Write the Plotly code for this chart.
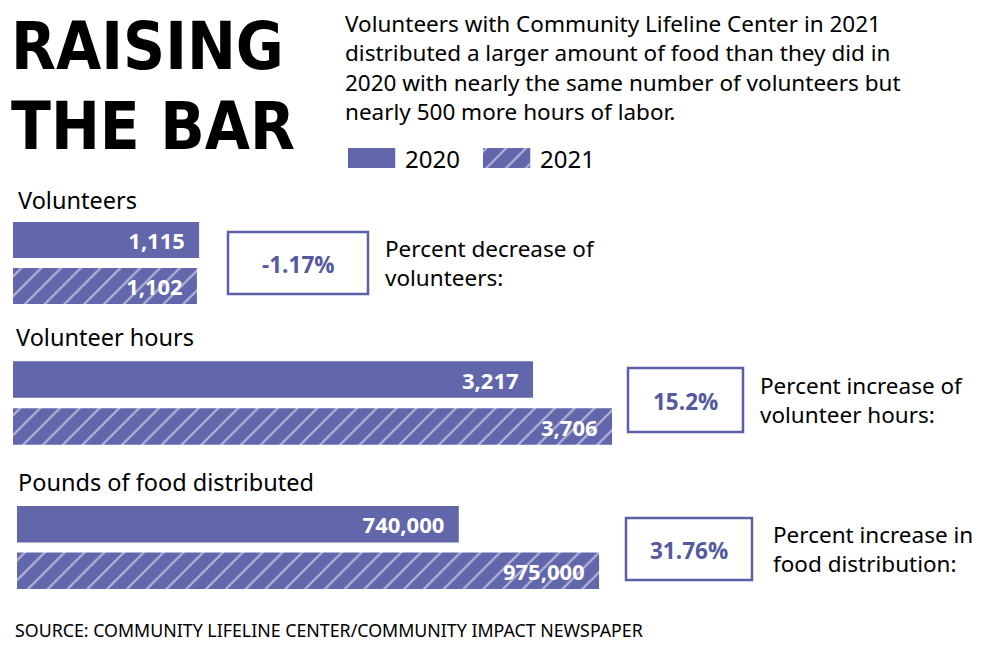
import plotly.graph_objects as go

years = ["2020", "2021"]
volunteers = [1115, 1102]
volunteer_hours = [3217, 3706]
food_pounds = [740000, 975000]
pct_labels = ["-1.17%", "15.2%", "31.76%"]
pct_notes = ["Percent decrease of<br>volunteers:",
             "Percent increase of<br>volunteer hours:",
             "Percent increase in<br>food distribution:"]
group_titles = ["Volunteers", "Volunteer hours", "Pounds of food distributed"]
intro = ("Volunteers with Community Lifeline Center in 2021<br>"
         "distributed a larger amount of food than they did in<br>"
         "2020 with nearly the same number of volunteers but<br>"
         "nearly 500 more hours of labor.")

W, H = 1000, 651
PURPLE = "#6266aa"
HATCH = "#b3b5da"
TXT = "Noto Sans, Open Sans, sans-serif"


def px(x, y):
    # pixel position -> paper coords
    return x / W, 1 - y / H


def bar_text(vals):
    return [f"{v:,}" + "\u00a0\u00a0" for v in vals]


pattern = dict(shape=["", "/"], bgcolor=PURPLE, fgcolor=HATCH,
               size=14, solidity=0.16, fillmode="replace")

fig = go.Figure()
groups = [volunteers, volunteer_hours, food_pounds]
for i, vals in enumerate(groups):
    n = "" if i == 0 else str(i + 1)
    fig.add_trace(go.Bar(
        x=vals, y=years, orientation="h",
        xaxis="x" + n, yaxis="y" + n,
        marker=dict(color=PURPLE, line=dict(width=0), pattern=pattern),
        text=bar_text(vals), textposition="inside", insidetextanchor="end",
        textfont=dict(family="Open Sans, Noto Sans", size=22, color="white", weight="bold"),
        cliponaxis=False, showlegend=False, hoverinfo="x",
    ))

# legend swatches
fig.add_trace(go.Bar(
    x=years, y=[1, 1], xaxis="x4", yaxis="y4",
    width=0.35, offset=-0.5,
    marker=dict(color=PURPLE, line=dict(width=0), pattern=pattern),
    showlegend=False, hoverinfo="skip",
))

hidden = dict(visible=False, fixedrange=True)
fig.update_layout(
    width=W, height=H,
    margin=dict(l=0, r=0, t=0, b=0),
    paper_bgcolor="white", plot_bgcolor="white",
    bargap=0.22,
    xaxis=dict(domain=[0.013, 0.613], range=[0, 3595], **hidden),
    yaxis=dict(domain=[1 - 309 / H, 1 - 217 / H], autorange="reversed", **hidden),
    xaxis2=dict(domain=[0.013, 0.613], range=[0, 3712], anchor="y2", **hidden),
    yaxis2=dict(domain=[1 - 450 / H, 1 - 356 / H], autorange="reversed", anchor="x2", **hidden),
    xaxis3=dict(domain=[0.017, 0.617], range=[0, 1005000], anchor="y3", **hidden),
    yaxis3=dict(domain=[1 - 594 / H, 1 - 501 / H], autorange="reversed", anchor="x3", **hidden),
    xaxis4=dict(domain=[0.348, 0.618], type="category", anchor="y4", **hidden),
    yaxis4=dict(domain=[1 - 168 / H, 1 - 148 / H], range=[0, 1], anchor="x4", **hidden),
)

ann = []


def note(x, y, text, size=23.5, color="black", xanchor="left", weight="normal", family=TXT):
    ax, ay = px(x, y)
    ann.append(dict(x=ax, y=ay, xref="paper", yref="paper", text=text, showarrow=False,
                    xanchor=xanchor, yanchor="middle", align="left",
                    font=dict(family=family, size=size, color=color, weight=weight)))


title_font = "DejaVu Sans Condensed, DejaVu Sans, sans-serif"
note(9, 47, "RAISING", size=65, weight="bold", family=title_font)
note(9, 126, "THE BAR", size=65, weight="bold", family=title_font)

note(343, 68, intro, size=22.5)

note(403, 158, years[0], size=24)
note(538, 158, years[1], size=24)

note(16, 200, group_titles[0])
note(14, 337, group_titles[1])
note(16, 482, group_titles[2])

boxes = [(228, 232, 368, 294), (628, 368, 743, 432), (626, 518, 752, 580)]
note_x = [383, 758, 771]
for (x0, y0, x1, y1), lab, txt, nx in zip(boxes, pct_labels, pct_notes, note_x):
    fig.add_shape(type="rect", xref="paper", yref="paper",
                  x0=x0 / W, x1=x1 / W, y0=1 - y0 / H, y1=1 - y1 / H,
                  line=dict(color="#5b5fa6", width=2.5), fillcolor="rgba(0,0,0,0)")
    note((x0 + x1) / 2, (y0 + y1) / 2 + 1, lab, size=22.5, color="#5459a0",
         xanchor="center", weight="bold", family="Open Sans, Noto Sans")
    note(nx, (y0 + y1) / 2, txt, size=22.5)

note(13, 630, "SOURCE: COMMUNITY LIFELINE CENTER/COMMUNITY IMPACT NEWSPAPER", size=17.8)

fig.update_layout(annotations=ann)
fig.write_html("out.html", config={"displayModeBar": False},
               post_script="document.body.style.margin='0';")
